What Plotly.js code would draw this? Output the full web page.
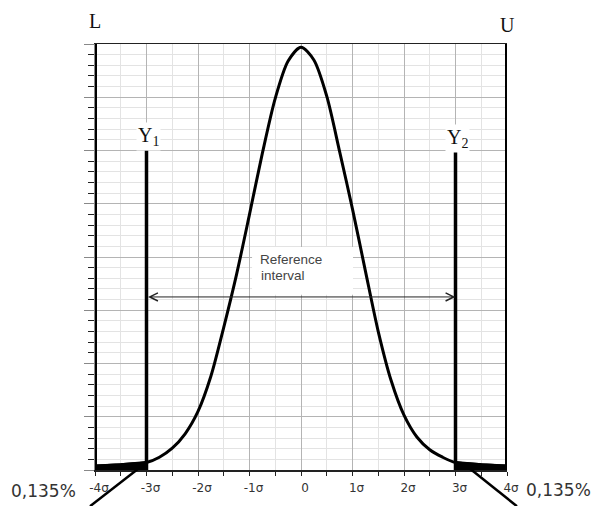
<!DOCTYPE html>
<html>
<head>
<meta charset="utf-8">
<script src="https://cdn.plot.ly/plotly-3.0.1.min.js"></script>
<style>html,body{margin:0;padding:0;background:#fff;}#chart{width:592px;height:506px;}</style>
</head>
<body>
<div id="chart"></div>
<script>
// Curve (x in sigma, y in grid units)
const curveX = [-4, -3.5, -3, -2.75, -2.5, -2.25, -2, -1.75, -1.5, -1.25, -1, -0.75, -0.5, -0.25, 0, 0.25, 0.5, 0.75, 1, 1.25, 1.5, 1.75, 2, 2.25, 2.5, 2.75, 3, 3.5, 4];
const curveY = [0.075, 0.10, 0.14, 0.24, 0.41, 0.68, 1.10, 1.76, 2.68, 3.68, 4.80, 5.95, 6.98, 7.68, 7.94, 7.70, 7.02, 5.98, 4.90, 3.74, 2.60, 1.68, 1.03, 0.62, 0.38, 0.24, 0.14, 0.10, 0.075];

// Limits
const limitL = -4, limitU = 4, limitY1 = -3, limitY2 = 3;
const limitTopLU = 8;   // L/U lines reach the top
const limitTopY = 6;    // Y1/Y2 lines height
const intervalY = 3.25; // reference-interval arrow level

// Axis tick labels
const tickVals = [-4, -3, -2, -1, 0, 1, 2, 3, 4];
const tickText = ['-4σ', '-3σ', '-2σ', '-1σ', '0', '1σ', '2σ', '3σ', '4σ'];

const tailLX = [], tailLY = [], tailRX = [], tailRY = [];
curveX.forEach((x, i) => {
  if (x <= limitY1) { tailLX.push(x); tailLY.push(curveY[i]); }
  if (x >= limitY2) { tailRX.push(x); tailRY.push(curveY[i]); }
});

const vline = (x, top, w) => ({
  x: [x, x], y: [0, top], mode: 'lines', type: 'scatter',
  line: {color: '#000', width: w}, hoverinfo: 'skip', showlegend: false
});

const traces = [
  {x: tailLX, y: tailLY, type: 'scatter', mode: 'lines', fill: 'tozeroy', fillcolor: '#000',
   line: {color: '#000', width: 3}, showlegend: false, hoverinfo: 'skip'},
  {x: tailRX, y: tailRY, type: 'scatter', mode: 'lines', fill: 'tozeroy', fillcolor: '#000',
   line: {color: '#000', width: 3}, showlegend: false, hoverinfo: 'skip'},
  {x: curveX, y: curveY, type: 'scatter', mode: 'lines',
   line: {color: '#000', width: 3, shape: 'spline', smoothing: 0.8}, showlegend: false, hoverinfo: 'skip'},
  vline(limitL, limitTopLU, 4),
  vline(limitU, limitTopLU, 4),
  vline(limitY1, limitTopY, 3.5),
  vline(limitY2, limitTopY, 3.5)
];

const serif = {family: '"Liberation Serif", "DejaVu Serif", serif', size: 20, color: '#111'};
const sans = {family: '"DejaVu Sans", sans-serif', size: 17, color: '#333'};
const refFont = {family: '"Liberation Sans", Arial, sans-serif', size: 13.5, color: '#444'};

const layout = {
  width: 592, height: 506,
  margin: {l: 95, r: 85, t: 44, b: 36, pad: 0},
  paper_bgcolor: '#fff', plot_bgcolor: '#fff',
  showlegend: false,
  xaxis: {
    range: [-4, 4], tickvals: tickVals, ticktext: tickText,
    ticks: 'outside', ticklen: 4, tickcolor: '#222', tickwidth: 1,
    ticklabelshift: 4, ticklabelstandoff: 2,
    tickfont: {family: '"DejaVu Sans", sans-serif', size: 12, color: '#333'},
    showgrid: true, gridcolor: '#b4b4b4', gridwidth: 1,
    minor: {dtick: 0.5, ticks: 'outside', ticklen: 4, tickcolor: '#222', showgrid: true, gridcolor: '#e3e3e3'},
    zeroline: false, showline: true, linecolor: '#222', linewidth: 1.5, mirror: true,
    fixedrange: true
  },
  yaxis: {
    range: [0, 8], dtick: 1, tick0: 0, showticklabels: false,
    ticks: 'outside', ticklen: 10, tickcolor: '#888',
    showgrid: true, gridcolor: '#b4b4b4', gridwidth: 1,
    minor: {dtick: 0.2, ticks: 'outside', ticklen: 6, tickcolor: '#222', showgrid: true, gridcolor: '#e3e3e3'},
    zeroline: false, showline: true, linecolor: '#888',
    fixedrange: true
  },
  shapes: [
    {type: 'rect', xref: 'x', yref: 'y', x0: -0.95, x1: 1.01, y0: 3.29, y1: 4.19,
     fillcolor: '#fff', line: {width: 0}, layer: 'between'},
    {type: 'line', xref: 'paper', yref: 'paper', x0: -0.012, y0: -0.085, x1: 0.126, y1: 0.019,
     line: {color: '#000', width: 2.5}},
    {type: 'line', xref: 'paper', yref: 'paper', x0: 0.905, y0: 0.007, x1: 1.024, y1: -0.085,
     line: {color: '#000', width: 2.5}}
  ],
  annotations: [
    {x: limitY2, y: intervalY, ax: limitY1, ay: intervalY, xref: 'x', yref: 'y', axref: 'x', ayref: 'y',
     text: '', showarrow: true, arrowhead: 5, startarrowhead: 5, arrowside: 'end+start',
     arrowsize: 1.6, startarrowsize: 1.6, arrowwidth: 1, arrowcolor: '#222'},
    {x: -0.83, y: 3.95, xref: 'x', yref: 'y', text: 'Reference', showarrow: false,
     xanchor: 'left', yanchor: 'middle', font: refFont},
    {x: -0.81, y: 3.66, xref: 'x', yref: 'y', text: 'interval', showarrow: false,
     xanchor: 'left', yanchor: 'middle', font: refFont},
    {x: limitL, y: 1.054, xref: 'x', yref: 'paper', text: 'L', showarrow: false,
     xanchor: 'center', yanchor: 'middle', font: serif},
    {x: limitU, y: 1.045, xref: 'x', yref: 'paper', text: 'U', showarrow: false,
     xanchor: 'center', yanchor: 'middle', font: serif},
    {x: limitY1, y: 6.27, xref: 'x', yref: 'y', text: 'Y<sub>1</sub>', showarrow: false, font: serif,
     xanchor: 'center', yanchor: 'middle', bgcolor: '#fff', xshift: 2},
    {x: limitY2, y: 6.22, xref: 'x', yref: 'y', text: 'Y<sub>2</sub>', showarrow: false, font: serif,
     xanchor: 'center', yanchor: 'middle', bgcolor: '#fff', xshift: 2},
    {x: -0.126, y: -0.049, xref: 'paper', yref: 'paper', text: '0,135%', showarrow: false,
     xanchor: 'center', yanchor: 'middle', font: sans},
    {x: 1.124, y: -0.047, xref: 'paper', yref: 'paper', text: '0,135%', showarrow: false,
     xanchor: 'center', yanchor: 'middle', font: sans}
  ]
};

Plotly.newPlot('chart', traces, layout, {staticPlot: true, displayModeBar: false});
</script>
</body>
</html>
